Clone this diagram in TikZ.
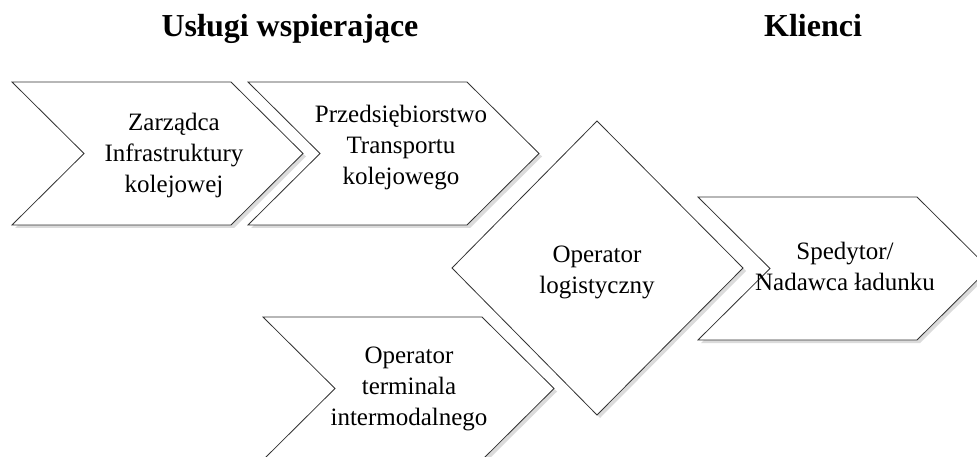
\documentclass[tikz,border=0pt]{standalone}
\usepackage{fontspec}
\setmainfont{Liberation Serif}
\begin{document}
\begin{tikzpicture}[x=1pt,y=-1pt,
  outline/.style={draw=black!80,line width=0.8pt,fill=white,line join=miter},
  shadowfill/.style={fill=black!14,draw=none},
  label/.style={font=\fontsize{25}{31}\selectfont,inner sep=0pt,anchor=base},
  heading/.style={font=\fontsize{32}{38}\selectfont\bfseries,inner sep=0pt,anchor=base},
  chev/.pic={
    \fill[shadowfill] (3,3) -- ++(219,0) -- ++(72,71.5) -- ++(-72,71.5) -- ++(-219,0) -- ++(72,-71.5) -- cycle;
    \path[outline] (0,0) -- ++(219,0) -- ++(72,71.5) -- ++(-72,71.5) -- ++(-219,0) -- ++(72,-71.5) -- cycle;
  }]
\useasboundingbox (0,0) rectangle (977,457);
\clip (0,0) rectangle (977,457);

% headings
\node[heading] (hsupport) at (290,37) {Usługi wspierające};
\node[heading] (hclients) at (813,37) {Klienci};

% chevrons of the supporting services
\pic (c1) at (12,82) {chev};
\pic (c2) at (248,82) {chev};
\pic (c3) at (263,317) {chev};

% logistics operator diamond
\fill[shadowfill] (600,124) -- (746,271) -- (600,418) -- (455,271) -- cycle;
\path[outline] (597,121) -- (743,268) -- (597,415) -- (452,268) -- cycle;

% client chevron
\pic (c4) at (698,197) {chev};

% texts
\node[label] (t1) at (174,131) {\begin{tabular}[t]{@{}c@{}}Zarządca\\Infrastruktury\\kolejowej\end{tabular}};
\node[label] (t2) at (401,123) {\begin{tabular}[t]{@{}c@{}}Przedsiębiorstwo\\Transportu\\kolejowego\end{tabular}};
\node[label] (t3) at (409,363) {\begin{tabular}[t]{@{}c@{}}Operator\\terminala\\intermodalnego\end{tabular}};
\node[label] (t4) at (597,262) {\begin{tabular}[t]{@{}c@{}}Operator\\logistyczny\end{tabular}};
\node[label] (t5) at (845,259) {\begin{tabular}[t]{@{}c@{}}Spedytor/\\Nadawca ładunku\end{tabular}};
\end{tikzpicture}
\end{document}
